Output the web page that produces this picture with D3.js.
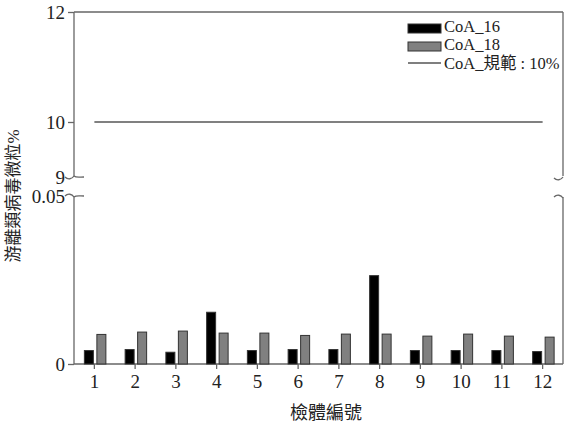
<!DOCTYPE html>
<html>
<head>
<meta charset="utf-8">
<script src="https://cdn.jsdelivr.net/npm/d3@7"></script>
<style>
  body { margin: 0; background: #fff; }
  text { font-family: "Liberation Serif", "Noto Sans CJK TC", serif; fill: #222; }
</style>
</head>
<body>
<div id="chart"></div>
<script>
// data
const categories = ["1", "2", "3", "4", "5", "6", "7", "8", "9", "10", "11", "12"];
const coa16 = [0.0040, 0.0043, 0.0035, 0.0154, 0.0040, 0.0043, 0.0043, 0.0263, 0.0040, 0.0040, 0.0040, 0.0037];
const coa18 = [0.0088, 0.0095, 0.0098, 0.0092, 0.0092, 0.0085, 0.0089, 0.0089, 0.0083, 0.0089, 0.0083, 0.0080];
const limit = 10;
const topTicks = [9, 10, 12];
const bottomTicks = [0, 0.05];
const legendLabels = ["CoA_16", "CoA_18", "CoA_規範 : 10%"];

const width = 565, height = 424;
const left = 74, right = 563;

const svg = d3.select("#chart").append("svg")
  .attr("width", width)
  .attr("height", height);

const x = d3.scaleBand().domain(categories).range([left, right]);
const yTop = d3.scaleLinear().domain([9, 12]).range([177, 12]);
const yBot = d3.scaleLinear().domain([0, 0.05]).range([364, 196]);

const axisColor = "#666";

// frame lines (broken axes)
const frame = svg.append("g").attr("stroke", axisColor).attr("fill", "none").attr("stroke-width", 1.3);
frame.append("line").attr("x1", left).attr("x2", right).attr("y1", yTop(12)).attr("y2", yTop(12));
frame.append("line").attr("x1", left).attr("x2", right).attr("y1", yBot(0)).attr("y2", yBot(0));
[left, right].forEach(xx => {
  frame.append("line").attr("x1", xx).attr("x2", xx).attr("y1", yTop(12)).attr("y2", yTop(9) - 1);
  frame.append("line").attr("x1", xx).attr("x2", xx).attr("y1", yBot(0.05) + 1).attr("y2", yBot(0));
});

// break marks
function breakLow(xx, y, tail) {
  frame.append("path")
    .attr("d", `M${xx - 9},${y} C${xx - 6},${y + 3} ${xx - 2},${y + 2} ${xx},${y - 1}`);
  if (tail) {
    frame.append("path").attr("d", `M${xx},${y - 1} C${xx + 2},${y + 1} ${xx + 6},${y} ${xx + 10},${y}`);
  }
}
function breakHigh(xx, y, tail) {
  frame.append("path")
    .attr("d", `M${xx - 9},${y} C${xx - 6},${y - 3} ${xx - 2},${y - 2} ${xx},${y + 1}`);
  if (tail) {
    frame.append("path").attr("d", `M${xx},${y + 1} C${xx + 2},${y - 1} ${xx + 6},${y} ${xx + 10},${y}`);
  }
}
breakLow(left, yTop(9), true);
breakHigh(left, yBot(0.05), true);
breakLow(right, yTop(9) + 1, false);
breakHigh(right, yBot(0.05) + 1, false);

// y axes (labels + ticks)
const axTop = svg.append("g").attr("transform", `translate(${left},0)`)
  .call(d3.axisLeft(yTop).tickValues(topTicks).tickSize(6).tickPadding(3).tickFormat(d3.format("d")));
const axBot = svg.append("g").attr("transform", `translate(${left},0)`)
  .call(d3.axisLeft(yBot).tickValues(bottomTicks).tickSize(6).tickPadding(3).tickFormat(d => d === 0 ? "0" : d3.format(".2f")(d)));
[axTop, axBot].forEach(g => {
  g.select(".domain").remove();
  g.selectAll(".tick line").attr("stroke", axisColor).attr("stroke-width", 1.3);
  g.selectAll(".tick text").attr("font-size", 19).attr("fill", "#222");
});
// 9 and 0.05 sit on the break marks, no separate tick
axTop.selectAll(".tick").filter(d => d === 9).select("line").remove();
axBot.selectAll(".tick").filter(d => d === 0.05).select("line").remove();

// x axis
const axX = svg.append("g").attr("transform", `translate(0,${yBot(0)})`)
  .call(d3.axisBottom(x).tickSize(5).tickPadding(6).tickSizeOuter(0));
axX.select(".domain").remove();
axX.selectAll(".tick line").attr("stroke", axisColor).attr("stroke-width", 1.3);
axX.selectAll(".tick text").attr("font-size", 19).attr("fill", "#222");

// bars
const barW = 9;
svg.append("g").selectAll("rect.b16").data(categories).join("rect")
  .attr("x", d => x(d) + x.bandwidth() / 2 - barW - 1)
  .attr("y", (d, i) => yBot(coa16[i]))
  .attr("width", barW)
  .attr("height", (d, i) => yBot(0) - yBot(coa16[i]))
  .attr("fill", "#000").attr("stroke", "#333").attr("stroke-width", 1);
svg.append("g").selectAll("rect.b18").data(categories).join("rect")
  .attr("x", d => x(d) + x.bandwidth() / 2 + 2.5)
  .attr("y", (d, i) => yBot(coa18[i]))
  .attr("width", barW)
  .attr("height", (d, i) => yBot(0) - yBot(coa18[i]))
  .attr("fill", "#808080").attr("stroke", "#333").attr("stroke-width", 1);

// limit line
svg.append("line")
  .attr("x1", x(categories[0]) + x.bandwidth() / 2)
  .attr("x2", x(categories[categories.length - 1]) + x.bandwidth() / 2)
  .attr("y1", yTop(limit)).attr("y2", yTop(limit))
  .attr("stroke", "#808080").attr("stroke-width", 2);

// legend
const lg = svg.append("g").attr("transform", "translate(408,0)");
lg.append("rect").attr("x", 0).attr("y", 24).attr("width", 33).attr("height", 9)
  .attr("fill", "#000").attr("stroke", "#333");
lg.append("rect").attr("x", 0).attr("y", 42).attr("width", 33).attr("height", 9)
  .attr("fill", "#808080").attr("stroke", "#333");
lg.append("line").attr("x1", 0).attr("x2", 33).attr("y1", 63).attr("y2", 63)
  .attr("stroke", "#555").attr("stroke-width", 1.3);
[32, 50, 69].forEach((yy, i) => {
  lg.append("text").attr("x", 36).attr("y", yy).attr("font-size", 16.5).text(legendLabels[i]);
});

// axis titles
svg.append("text")
  .attr("transform", "translate(19,196) rotate(-90)")
  .attr("text-anchor", "middle")
  .attr("font-size", 17)
  .text("游離類病毒微粒%");
svg.append("text")
  .attr("x", 326).attr("y", 419)
  .attr("text-anchor", "middle")
  .attr("font-size", 18)
  .text("檢體編號");
</script>
</body>
</html>
